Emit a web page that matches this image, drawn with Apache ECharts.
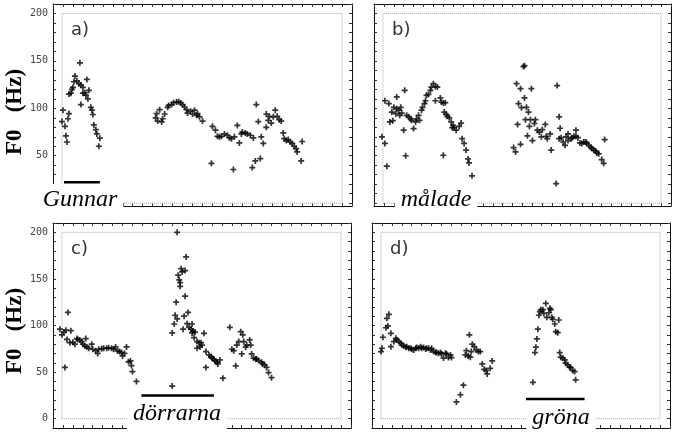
<!DOCTYPE html>
<html>
<head>
<meta charset="utf-8">
<script src="https://cdn.jsdelivr.net/npm/echarts@6/dist/echarts.min.js"></script>
<style>
  html, body { margin: 0; padding: 0; background: #fff; }
  #chart { width: 673px; height: 435px; }
</style>
</head>
<body>
<div id="chart"></div>
<script>
// F0 tick labels
const yTicks = [0, 50, 100, 150, 200]

// a) Gunnar målade dörrarna gröna -- [time, F0 Hz]
const aPoints = [
  [9, 86], [10, 98], [12, 81], [13, 71], [14, 64.5], [15, 89], [16, 94.5], [16, 115], [18, 116], [19, 120],
  [20, 122], [21, 128], [22, 134], [24, 129], [26, 126], [27, 148], [28, 124.5], [28, 104], [30, 122], [30, 116],
  [32, 116.5], [33, 114], [34, 130.5], [35, 110], [36, 119], [38, 101], [39, 98], [40, 93.5], [41, 82.5], [43, 77.5],
  [44, 73], [46, 60], [47, 68.5],
  [103, 90], [104, 94.4], [105, 86.6], [107, 98.6], [109, 85.6], [110, 89], [112, 94], [115, 101], [116, 103], [119, 104],
  [121, 106], [124, 106.6], [126, 107], [128, 105.6], [130, 104], [132, 101.4], [134, 98.6], [135, 95], [138, 97], [140, 94],
  [142, 98], [144, 92.6], [145, 94.4], [147, 91], [150, 86.6],
  [159, 42], [160, 81], [163, 77], [165, 70.5], [167, 70], [169, 70.5], [172, 73], [175, 71.6], [177, 69], [179, 68],
  [181, 35.5], [182, 70], [185, 82], [187, 63.5], [189, 73], [190, 75], [193, 74], [195, 73], [198, 71.6], [200, 37.5],
  [201, 68.8], [203, 44.5], [204, 104], [206, 86], [208, 47], [209, 70], [211, 63], [214, 80], [214, 94], [216, 87.4],
  [217, 91.6], [219, 84.5], [221, 91], [223, 98], [225, 91.6], [227, 88], [229, 86.6], [231, 74], [232, 68], [234, 66],
  [236, 67], [238, 64.5], [240, 63], [242, 60], [244, 57.6], [245, 54], [249, 44.5], [250, 65]
]

// b) Gunnar målade dörrarna gröna
const bPoints = [
  [8, 70], [11, 63], [13, 39], [11, 108], [15, 105], [16, 85.6], [18, 96], [19, 87], [20, 101], [22, 94.4],
  [23, 99.6], [23, 112], [25, 98], [26, 92.6], [27, 101], [28, 95], [30, 77], [31, 119], [32, 50], [33, 92.6],
  [35, 91], [37, 89], [38, 87.4], [40, 78.6], [42, 85.6], [43, 89], [45, 92.6], [46, 87.4], [48, 98], [49, 101],
  [51, 105], [52, 108], [53, 113.7], [55, 114.7], [57, 119], [58, 122.4], [60, 126], [62, 123], [64, 122.4], [62, 108],
  [67, 111], [68, 106.6], [70, 105.6], [72, 106], [70, 50.5], [71, 96], [73, 93.6], [74, 91.6], [76, 90], [78, 85.6],
  [80, 82], [79, 79.6], [81, 79.6], [83, 77], [86, 81], [88, 84.5], [89, 68], [91, 63], [93, 56], [95, 46.6],
  [96, 42.4], [99, 28.8],
  [141, 58.6], [143, 54], [144, 126], [145, 83], [146, 105], [148, 120.7], [148, 62], [149, 100.7], [151, 144], [152, 145],
  [152, 111], [153, 88], [154, 101], [155, 71], [156, 96], [157, 81], [158, 88], [159, 120.7], [160, 66], [162, 84],
  [163, 88], [165, 77], [167, 75], [169, 70], [170, 77.5], [173, 83], [174, 70.5], [175, 68], [178, 73], [179, 56],
  [184, 20.7], [185, 124], [187, 91], [187, 68], [188, 79], [189, 69], [191, 64.5], [193, 61], [194, 70], [196, 66],
  [196, 73], [199, 68], [200, 69], [202, 70.5], [204, 77], [204, 70.5], [206, 69], [208, 63.5], [210, 63], [212, 64.5],
  [214, 64.5], [215, 63], [217, 61], [219, 59], [220, 57.6], [222, 56], [224, 55], [225, 53], [227, 52], [230, 46],
  [232, 42], [233, 67]
]

// c) Gunnar målade dörrarna gröna
const cPoints = [
  [7, 96], [9, 90], [11, 93], [12, 55], [13, 95], [14, 85], [15, 114], [17, 81.6], [18, 94.4], [20, 82],
  [22, 80], [24, 86], [25, 85], [27, 84.5], [29, 82.7], [30, 80], [32, 78], [33, 86], [34, 77], [36, 75.6],
  [39, 80], [40, 74.5], [43, 73], [45, 70], [46, 74.5], [49, 75], [51, 75.6], [54, 75.6], [56, 76], [59, 75.6],
  [61, 74.5], [63, 77], [65, 72.7], [67, 72], [69, 71], [70, 67.4], [72, 70], [74, 77], [76, 61], [78, 62],
  [79, 57], [80, 50.6], [84, 40],
  [120, 35], [120, 92], [122, 101.6], [123, 111], [124, 125], [125, 107], [125, 200], [126, 154], [127, 149], [128, 146],
  [128, 142], [129, 161], [130, 157.5], [131, 96], [132, 110], [133, 159], [133, 131.5], [134, 173.6], [135, 102], [136, 114],
  [137, 98], [139, 96], [140, 101.6], [140, 92], [141, 94], [142, 87], [143, 93], [145, 82.7], [145, 75.6], [147, 81.6],
  [148, 77], [149, 81.6], [150, 79], [152, 91.6], [154, 72], [154, 55], [157, 68.4], [159, 66.6], [160, 65], [162, 64],
  [163, 62], [165, 60.6], [166, 58.8], [168, 63], [171, 43.5],
  [178, 98], [180, 74.5], [182, 73], [184, 56.7], [185, 79], [187, 82.7], [189, 93.4], [190, 69.5], [191, 90], [192, 82.7],
  [194, 76.7], [195, 79], [198, 84.5], [199, 79], [200, 69.5], [202, 65], [204, 64], [205, 64], [207, 62.4], [210, 60.6],
  [211, 58.8], [213, 57.8], [215, 55], [217, 49.5], [220, 44]
]

// d) Gunnar målade dörrarna gröna
const dPoints = [
  [9, 72], [10, 75.6], [11, 87.4], [14, 97.6], [15, 107.7], [16, 99.5], [17, 112], [19, 91.6], [19, 77.3], [22, 82.7],
  [24, 86.3], [25, 84.5], [27, 82.7], [29, 81], [30, 79], [32, 78], [34, 76.7], [35, 77.3], [37, 75.6], [39, 75.6],
  [40, 74.5], [42, 73.8], [44, 75.6], [45, 76.3], [47, 75.6], [49, 77.3], [50, 75.6], [52, 76.3], [54, 74.9], [55, 75.6],
  [57, 75.6], [59, 73.8], [60, 75.6], [62, 72], [64, 71.3], [65, 71], [67, 70.3], [69, 71], [70, 69.5], [72, 65],
  [74, 70.3], [75, 69.5], [77, 65.6], [79, 68.4], [80, 65.6],
  [85, 18], [89, 25.7], [92, 36], [94, 68.4], [95, 73], [97, 67.4], [98, 90], [99, 66], [100, 72], [101, 80],
  [103, 77.3], [105, 73.8], [107, 72], [109, 72], [111, 58.8], [113, 53], [115, 51.7], [116, 48], [119, 54], [121, 62],
  [162, 39], [164, 71], [165, 76.7], [166, 85.6], [167, 96], [168, 111], [169, 114.8], [170, 117], [172, 117], [173, 113],
  [175, 123.7], [176, 108.8], [178, 113.7], [179, 118.4], [180, 117], [181, 108.8], [182, 106.6], [184, 101.6], [185, 93.4], [187, 92.3],
  [188, 105.9], [189, 71], [190, 66], [192, 65], [194, 63], [195, 59.6], [197, 57.8], [199, 55.3], [200, 54.9], [202, 51.7],
  [204, 50.6], [205, 41.7]
]

// focus word underline: [start, end, F0 level]
const underlines = [[11, 47, 22], [27, 100, 19], [89, 162, 25], [155, 214, 21]]
const panelLetters = ['a)', 'b)', 'c)', 'd)']
const words = ['Gunnar', 'målade', 'dörrarna', 'gröna']

;(function () {
  let myChart = echarts.init(document.getElementById('chart'))
  const allPoints = [aPoints, bPoints, cPoints, dPoints]
  // plus sign marker
  const plus = 'path://M2.5,0L4.5,0L4.5,2.5L7,2.5L7,4.5L4.5,4.5L4.5,7L2.5,7L2.5,4.5L0,4.5L0,2.5L2.5,2.5Z'

  // panel frames
  const boxes = [
    { left: 53, top: 4, width: 299, height: 202, ymin: -3, labels: true },
    { left: 374, top: 4, width: 297, height: 202, ymin: -3, labels: false },
    { left: 53, top: 223, width: 298, height: 205, ymin: -10, labels: true },
    { left: 372, top: 223, width: 298, height: 205, ymin: -10, labels: false }
  ]
  // word label centres
  const wordPos = [[80, 200], [436, 200], [177, 414], [561, 418]]

  const yTickMarks = []
  for (let v = 0; v <= 210; v += 10) yTickMarks.push(v)
  const xTickMarks = []
  for (let v = 0; v <= 300; v += 10) xTickMarks.push(v)

  let grid = [], xAxis = [], yAxis = [], series = [], graphic = []

  boxes.forEach(function (b, i) {
    grid.push({ left: b.left, top: b.top, width: b.width, height: b.height })
    ;['bottom', 'top'].forEach(function (pos) {
      xAxis.push({
        type: 'value', gridIndex: i, position: pos, min: 0, max: 300,
        axisLine: { onZero: false, lineStyle: { color: '#111', width: 1 } },
        axisTick: { inside: true, length: 3, customValues: xTickMarks, lineStyle: { color: '#333' } },
        axisLabel: { show: false },
        splitLine: { show: false }
      })
    })
    ;['left', 'right'].forEach(function (pos) {
      yAxis.push({
        type: 'value', gridIndex: i, position: pos, min: b.ymin, max: 210,
        axisLine: { onZero: false, lineStyle: { color: '#111', width: 1 } },
        axisTick: { inside: true, length: 3, customValues: yTickMarks, lineStyle: { color: '#333' } },
        axisLabel: {
          show: b.labels && pos === 'left',
          customValues: yTicks,
          color: '#444',
          fontSize: 10,
          fontFamily: 'DejaVu Sans Mono',
          margin: 5
        },
        splitLine: { show: false }
      })
    })

    series.push({
      type: 'scatter',
      xAxisIndex: i * 2,
      yAxisIndex: i * 2,
      data: allPoints[i],
      symbol: plus,
      symbolSize: 6,
      itemStyle: { color: '#000' },
      markArea: {
        silent: true,
        itemStyle: { color: 'rgba(0,0,0,0)', borderColor: '#aaa', borderWidth: 1, borderType: 'dotted' },
        data: [[{ xAxis: 9, yAxis: 0 }, { xAxis: 290, yAxis: 200 }]]
      }
    })
    const u = underlines[i]
    series.push({
      type: 'line',
      xAxisIndex: i * 2,
      yAxisIndex: i * 2,
      data: [[u[0], u[2]], [u[1], u[2]]],
      symbol: 'none',
      lineStyle: { color: '#000', width: 2.5 }
    })

    graphic.push({
      type: 'text',
      left: b.left + 18,
      top: b.top + 17,
      style: { text: panelLetters[i], font: '18px "DejaVu Sans"', fill: '#333' }
    })
    graphic.push({
      type: 'text',
      x: wordPos[i][0],
      y: wordPos[i][1],
      z: 100,
      style: {
        text: words[i],
        font: 'italic 24px "Liberation Serif"',
        fill: '#000',
        align: 'center',
        verticalAlign: 'middle',
        backgroundColor: '#fff',
        padding: [4, 6]
      }
    })
  })

  // y axis titles
  ;[112, 331].forEach(function (cy) {
    graphic.push({
      type: 'text',
      x: 15,
      y: cy,
      rotation: Math.PI / 2,
      style: {
        text: 'F0   (Hz)',
        font: 'bold 23px "Liberation Serif"',
        fill: '#000',
        align: 'center',
        verticalAlign: 'middle'
      }
    })
  })

  let option = {
    backgroundColor: '#fff',
    animation: false,
    grid: grid,
    xAxis: xAxis,
    yAxis: yAxis,
    series: series,
    graphic: graphic
  }
  myChart.setOption(option)
  window.addEventListener('resize', function () {
    myChart.resize()
  })
})()
</script>
</body>
</html>
